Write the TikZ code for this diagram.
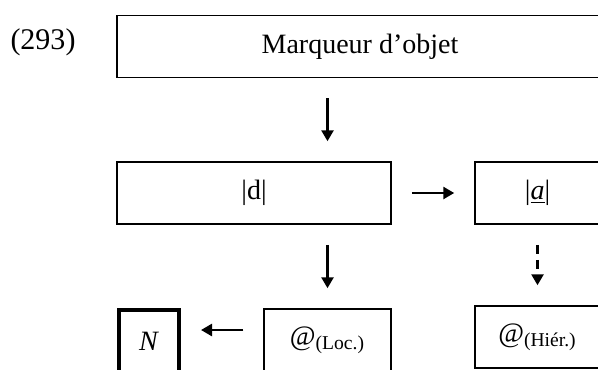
\documentclass[tikz,border=0pt]{standalone}
\usepackage{fontspec}
\setmainfont{Liberation Serif}
\usetikzlibrary{arrows.meta}

\begin{document}
\begin{tikzpicture}[x=0.5pt, y=-0.5pt,
            box/.style={draw, line width=0.75pt, minimum height=31pt,
                        inner sep=0pt, align=center},
            heavybox/.style={box, line width=2pt},
            arr/.style={-{Triangle[length=5.5pt, width=6pt]}, line width=1.3pt,
                        shorten <=10pt, shorten >=10pt},
            lab/.style={font=\fontsize{14}{17}\selectfont}
        ]
        \useasboundingbox (0,0) rectangle (598,369);
        \clip (0,0) rectangle (598,369);

        % Nodes
        \node[lab, font=\fontsize{15}{18}\selectfont] (num) at (43,42) {(293)};
        \node[box, lab, minimum width=243pt] (marker) at (360,46.5) {Marqueur d’objet};
        \node[box, lab, minimum width=137pt] (d) at (254,193) {|d|};
        \node[box, lab, minimum width=62.5pt] (a) at (537.5,193)
            {|\underline{\textit{a}}|};

        % Bottom row
        \node[heavybox, lab, minimum width=30pt] (N) at (149,341) {\textit{N}};
        \node[box, lab, minimum width=63.5pt] (loc) at (327.5,340) {@\textsubscript{(Loc.)}};
        \node[box, lab, minimum width=62.5pt] (hier) at (537.5,337) {@\textsubscript{(Hiér.)}};

        % Arrows
        \draw[arr] (marker.south -| loc.north) -- (d.north -| loc.north);
        \draw[arr] (d) -- (a);
        \draw[arr] (d.south -| loc.north) -- (loc.north);
        \draw[arr, dash pattern=on 4.5pt off 3pt] (a) -- (hier);
        \draw[arr] ([yshift=5pt]loc.west) -- ([yshift=5pt]loc.west -| N.east);

        \end{tikzpicture}
\end{document}
